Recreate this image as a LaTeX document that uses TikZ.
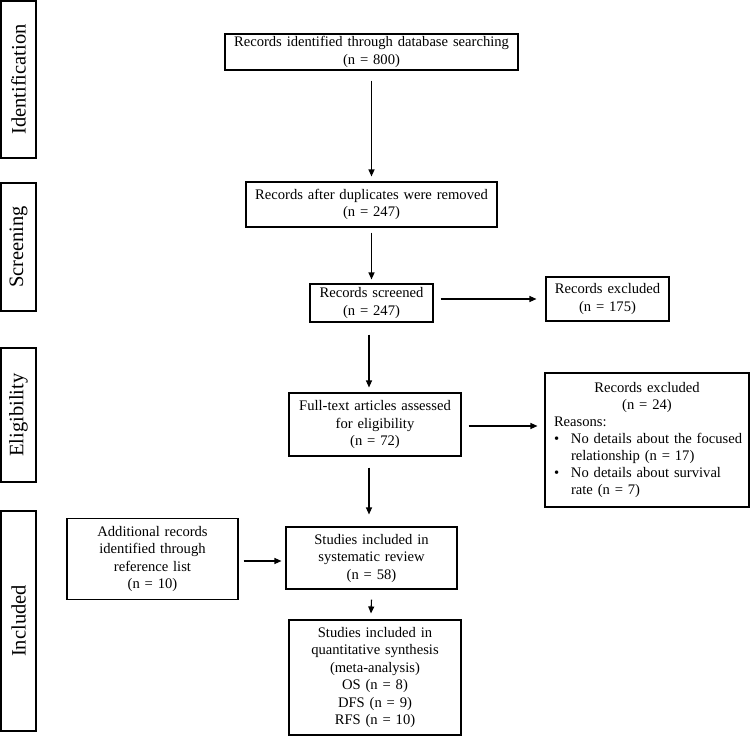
\documentclass[tikz,border=0pt]{standalone}
\usepackage{fontspec}
\setmainfont{Liberation Serif}
\usetikzlibrary{arrows.meta}
\tikzset{
  box/.style={draw=black, line width=1.1pt, inner sep=2pt, align=center,
    font=\fontsize{14.6}{17.5}\selectfont},
  side/.style={draw=black, line width=1.1pt, inner sep=0pt},
  sidetext/.style={rotate=90, font=\fontsize{20.5}{23}\selectfont},
  arr/.style={draw=black, line width=1.1pt, -{Triangle[length=7pt,width=6pt]}}
}
\begin{document}
\begin{tikzpicture}[x=1pt,y=-1pt]
\path[use as bounding box] (0,0) rectangle (750,736);
% side labels
\node[side, minimum width=35pt, minimum height=157pt] (s1) at (18.5,79.5) {};
\node[sidetext] (t1) at (s1.center) {Identification};
\node[side, minimum width=35pt, minimum height=128pt] (s2) at (18.5,247) {};
\node[sidetext] (t2) at (s2.center) {Screening};
\node[side, minimum width=35pt, minimum height=134pt] (s3) at (18.5,415) {};
\node[sidetext] (t3) at (s3.center) {Eligibility};
\node[side, minimum width=35pt, minimum height=220pt] (s4) at (18.5,621) {};
\node[sidetext] (t4) at (s4.center) {Included};
% main boxes
\node[box, text width=289pt, minimum height=36pt] (b1) at (371.5,52)
  {Records identified through database searching\\(n = 800)};
\node[box, text width=247pt, minimum height=45pt] (b2) at (371.5,204.5)
  {Records after duplicates were removed\\(n = 247)};
\node[box, text width=119pt, minimum height=38pt] (b3) at (371.5,303)
  {Records screened\\(n = 247)};
\node[box, text width=119pt, minimum height=44pt] (b4) at (607.5,299)
  {Records excluded\\(n = 175)};
\node[box, text width=168pt, minimum height=63pt] (b5) at (375,424.5)
  {Full-text articles assessed\\for eligibility\\(n = 72)};
\node[box, inner xsep=9pt, text width=186pt, minimum height=134pt, align=left,
      font=\fontsize{14.6}{17}\selectfont] (b6) at (647,440)
  {\centering Records excluded\\(n = 24)\par
   \raggedright Reasons:\\
   \mbox{\makebox[17pt][l]{\textbullet}No details about the focused}\\
   \hspace*{17pt}relationship (n = 17)\\
   \mbox{\makebox[17pt][l]{\textbullet}No details about survival}\\
   \hspace*{17pt}rate (n = 7)};
\node[box, text width=167pt, minimum height=62pt] (b7) at (371.5,558)
  {Studies included in\\systematic review\\(n = 58)};
\node[box, text width=167pt, minimum height=81pt] (b8) at (152.5,559)
  {Additional records\\identified through\\reference list\\(n = 10)};
\node[box, text width=168pt, minimum height=115pt] (b9) at (375,677.5)
  {Studies included in\\quantitative synthesis\\(meta-analysis)\\OS (n = 8)\\DFS (n = 9)\\RFS (n = 10)};
% connectors
\draw[arr] ([yshift=-10pt]b1.south) -- ([yshift=5pt]b2.north);
\draw[arr] ([yshift=-5pt]b2.south) -- ([yshift=4pt]b3.north);
\draw[arr] ([xshift=7pt,yshift=4pt]b3.east) -- ([xshift=-9pt]b4.west);
\draw[arr] ([xshift=-2.5pt,yshift=-12pt]b3.south) -- ([xshift=-6pt,yshift=5pt]b5.north);
\draw[arr] ([xshift=7pt,yshift=-1.5pt]b5.east) -- ([xshift=-7pt,yshift=14pt]b6.west);
\draw[arr] ([xshift=-6pt,yshift=-11pt]b5.south) -- ([xshift=-2.5pt,yshift=12pt]b7.north);
\draw[arr] ([xshift=5pt,yshift=-2pt]b8.east) -- ([xshift=-4pt,yshift=-3pt]b7.west);
\draw[arr] ([yshift=-10pt]b7.south) -- ([xshift=-4pt,yshift=6pt]b9.north);
\end{tikzpicture}
\end{document}
